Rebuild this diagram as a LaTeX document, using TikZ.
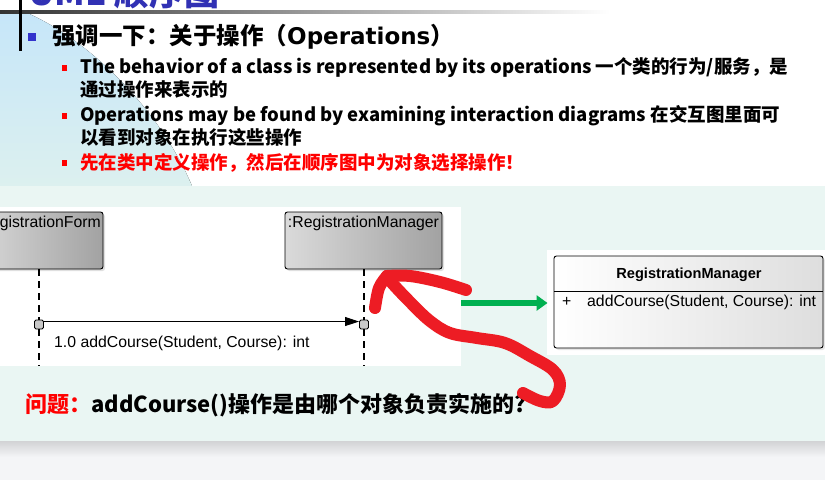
\documentclass[tikz,border=0pt]{standalone}
\usepackage{fontspec}
\newfontfamily\cjk{Noto Sans CJK SC}
\newfontfamily\arial{Liberation Sans}
\newfontfamily\wide{DejaVu Sans}
\usetikzlibrary{arrows.meta,shadows}
\definecolor{panelmint}{HTML}{EAF6F3}
\definecolor{pagegrey}{HTML}{F4F5F7}
\definecolor{shadowgrey}{HTML}{D2D3D5}
\definecolor{bluetop}{HTML}{C6E6F9}
\definecolor{bluebot}{HTML}{DCF0EF}
\definecolor{bulletblue}{HTML}{3333CC}
\definecolor{titleblue}{HTML}{3131B4}
\definecolor{boxlight}{HTML}{DADADA}
\definecolor{boxdark}{HTML}{A2A2A2}
\definecolor{actgrey}{HTML}{C8C8C8}
\definecolor{penred}{HTML}{ED1C24}
\definecolor{okgreen}{HTML}{00B050}
\begin{document}
\begin{tikzpicture}[x=1pt,y=-1pt,
  bodytext/.style={anchor=west,inner sep=0pt,font=\cjk\bfseries\fontsize{18.5}{22}\selectfont},
  headtext/.style={anchor=west,inner sep=0pt,font=\cjk\bfseries\fontsize{23.5}{28}\selectfont},
  lifebox/.style={draw=black,line width=0.9pt,rounded corners=2.5pt,left color=boxlight,right color=boxdark,
    drop shadow={shadow xshift=2pt,shadow yshift=-2pt,opacity=0.25},inner sep=0pt},
  umltext/.style={inner sep=0pt,font=\arial\fontsize{15.8}{18}\selectfont},
  actbox/.style={draw=black,line width=0.9pt,fill=actgrey,rounded corners=1.5pt,minimum size=9pt,inner sep=0pt},
  lifeline/.style={line width=1.3pt,dash pattern=on 7pt off 5pt},
  msg/.style={line width=1pt,-{Triangle[length=14pt,width=9pt]}},
  pen/.style={penred,line width=12pt,line cap=round,line join=round},
]
\useasboundingbox (0,0) rectangle (825,480);

% slide background
\fill[white] (0,0) rectangle (825,480);
\fill[top color=bluetop,bottom color=bluebot] (0,12) -- (25,12) .. controls (90,40) and (160,110) .. (192,186) -- (0,186) -- cycle;
\fill[panelmint] (0,186) rectangle (825,441);
\fill[pagegrey] (0,441) rectangle (825,480);
\fill[top color=shadowgrey,bottom color=pagegrey] (0,441) rectangle (825,457);

% title bar (the title sits mostly above the page edge)
\node[anchor=base west,inner sep=0pt,text=titleblue,font=\cjk\bfseries\fontsize{35}{35}\selectfont] (title) at (28,5) {UML 顺序图};
\fill[left color=black!80,middle color=black!45,right color=white] (0,10) rectangle (610,13);
\fill[black] (19,0) rectangle (22,51);

% heading and bullets
\fill[bulletblue] (28,33) rectangle (36,41);
\node[headtext] (head) at (52,37) {强调一下：关于操作（{\wide\bfseries\fontsize{23}{28}\selectfont Operations}）};

\fill[red] (62,65) rectangle (67,71);
\node[bodytext] (b1a) at (80,68) {The behavior of a class is represented by its operations 一个类的行为/服务，是};
\node[bodytext] (b1b) at (80,89) {通过操作来表示的};
\fill[red] (62,113) rectangle (67,119);
\node[bodytext] (b2a) at (80,116) {Operations may be found by examining interaction diagrams 在交互图里面可};
\node[bodytext] (b2b) at (80,137) {以看到对象在执行这些操作};
\fill[red] (62,160) rectangle (67,166);
\node[bodytext,text=red] (b3) at (80,163) {先在类中定义操作，然后在顺序图中为对象选择操作！};

% sequence diagram
\fill[white] (0,207) rectangle (461,366);
\node[lifebox,minimum width=130pt,minimum height=57pt] (form) at (38,240.5) {};
\node[umltext] (formname) at (38,223) {:RegistrationForm};
\node[lifebox,minimum width=157pt,minimum height=57pt] (mgr) at (363.5,240.5) {};
\node[umltext] (mgrname) at (363.5,223) {:RegistrationManager};
\node[actbox] (actL) at (39,324.5) {};
\node[actbox] (actR) at (364,324.5) {};
\coordinate (endL) at (39,366);
\coordinate (endR) at (364,366);
\draw[lifeline] (form.south -| actL) -- (actL.north);
\draw[lifeline] (actL.south) -- (endL);
\draw[lifeline] (mgr.south -| actR) -- (actR.north);
\draw[lifeline] (actR.south) -- (endR);
\draw[msg] ([yshift=3pt]actL.east) -- ([yshift=3pt]actR.west);
\node[umltext,anchor=west] (msglabel) at (54,343) {1.0 addCourse(Student, Course): int};

% class box
\fill[white] (547,250) rectangle (825,355);
\node[draw=black,line width=0.9pt,rounded corners=2.5pt,left color=white,right color=black!13,
  drop shadow={shadow xshift=2pt,shadow yshift=-2pt,opacity=0.2},
  minimum width=269pt,minimum height=92pt,inner sep=0pt] (cls) at (688.5,302) {};
\draw[line width=0.9pt] (554,291) -- (823,291);
\node[umltext,font=\arial\bfseries\fontsize{14.6}{17}\selectfont] (clsname) at (689,275) {RegistrationManager};
\node[umltext,anchor=west] (plus) at (562,302) {+};
\node[umltext,anchor=west] (op) at (587,302) {addCourse(Student, Course): int};

% green arrow towards the class
\coordinate (gstart) at (461,303);
\draw[okgreen,line width=5.5pt,-{Triangle[length=11pt,width=15pt]},shorten >=6pt] (gstart) -- (cls.west |- gstart);

% question
\node[anchor=west,inner sep=0pt,font=\cjk\bfseries\fontsize{22}{25}\selectfont] (q) at (25,405) {\textcolor{red}{问题：}addCourse()操作是由哪个对象负责实施的?};

% hand-drawn red arrow
\draw[pen] plot[smooth,tension=0.6] coordinates {(523,393) (540,401) (553,401) (560,385) (553,370) (530,356) (505,343) (477,338) (450,333) (430,321) (410,302) (392,283) (387,276)};
\draw[pen] plot[smooth,tension=0.6] coordinates {(387,276) (379,288) (375,308)};
\draw[pen] plot[smooth,tension=0.6] coordinates {(387,276) (410,276) (440,282) (466,290)};
\end{tikzpicture}
\end{document}
